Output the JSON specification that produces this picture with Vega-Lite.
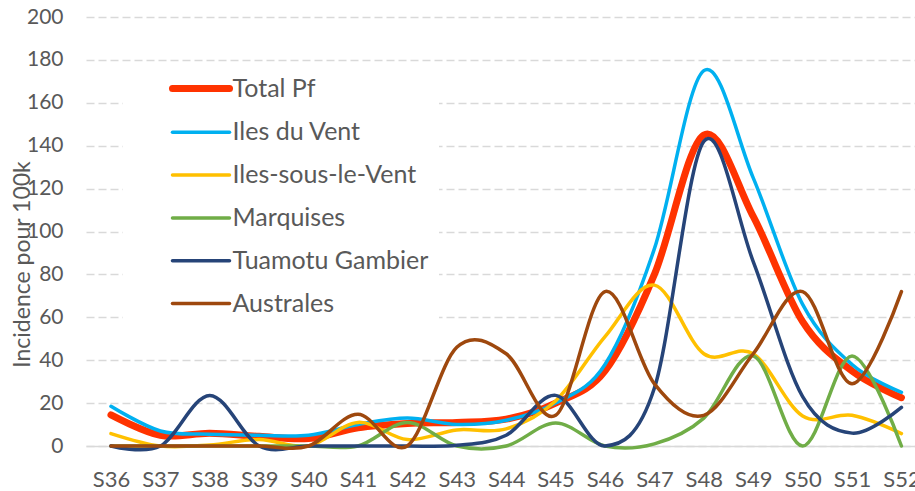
{
  "$schema": "https://vega.github.io/schema/vega-lite/v6.json",
  "width": 829,
  "height": 429,
  "autosize": "none",
  "padding": {"left": 86, "top": 17, "right": 0, "bottom": 45},
  "background": "white",
  "config": {"view": {"stroke": null}, "font": "Lato"},
  "data": {
    "values": [
      {"series": "Total Pf", "week": "S36", "value": 14.5},
      {"series": "Total Pf", "week": "S37", "value": 5},
      {"series": "Total Pf", "week": "S38", "value": 6},
      {"series": "Total Pf", "week": "S39", "value": 4.5},
      {"series": "Total Pf", "week": "S40", "value": 3.5},
      {"series": "Total Pf", "week": "S41", "value": 8.5},
      {"series": "Total Pf", "week": "S42", "value": 10.5},
      {"series": "Total Pf", "week": "S43", "value": 11},
      {"series": "Total Pf", "week": "S44", "value": 12.5},
      {"series": "Total Pf", "week": "S45", "value": 20},
      {"series": "Total Pf", "week": "S46", "value": 35},
      {"series": "Total Pf", "week": "S47", "value": 80},
      {"series": "Total Pf", "week": "S48", "value": 145},
      {"series": "Total Pf", "week": "S49", "value": 107},
      {"series": "Total Pf", "week": "S50", "value": 58},
      {"series": "Total Pf", "week": "S51", "value": 35},
      {"series": "Total Pf", "week": "S52", "value": 22.5},

      {"series": "Iles du Vent", "week": "S36", "value": 18.5},
      {"series": "Iles du Vent", "week": "S37", "value": 7},
      {"series": "Iles du Vent", "week": "S38", "value": 5.5},
      {"series": "Iles du Vent", "week": "S39", "value": 5},
      {"series": "Iles du Vent", "week": "S40", "value": 5},
      {"series": "Iles du Vent", "week": "S41", "value": 10},
      {"series": "Iles du Vent", "week": "S42", "value": 13},
      {"series": "Iles du Vent", "week": "S43", "value": 10},
      {"series": "Iles du Vent", "week": "S44", "value": 12},
      {"series": "Iles du Vent", "week": "S45", "value": 20},
      {"series": "Iles du Vent", "week": "S46", "value": 38},
      {"series": "Iles du Vent", "week": "S47", "value": 92},
      {"series": "Iles du Vent", "week": "S48", "value": 175},
      {"series": "Iles du Vent", "week": "S49", "value": 125},
      {"series": "Iles du Vent", "week": "S50", "value": 66},
      {"series": "Iles du Vent", "week": "S51", "value": 38},
      {"series": "Iles du Vent", "week": "S52", "value": 25},

      {"series": "Iles-sous-le-Vent", "week": "S36", "value": 5.8},
      {"series": "Iles-sous-le-Vent", "week": "S37", "value": 0},
      {"series": "Iles-sous-le-Vent", "week": "S38", "value": 0.5},
      {"series": "Iles-sous-le-Vent", "week": "S39", "value": 3},
      {"series": "Iles-sous-le-Vent", "week": "S40", "value": 0},
      {"series": "Iles-sous-le-Vent", "week": "S41", "value": 11},
      {"series": "Iles-sous-le-Vent", "week": "S42", "value": 3},
      {"series": "Iles-sous-le-Vent", "week": "S43", "value": 7.5},
      {"series": "Iles-sous-le-Vent", "week": "S44", "value": 8},
      {"series": "Iles-sous-le-Vent", "week": "S45", "value": 21},
      {"series": "Iles-sous-le-Vent", "week": "S46", "value": 51},
      {"series": "Iles-sous-le-Vent", "week": "S47", "value": 75},
      {"series": "Iles-sous-le-Vent", "week": "S48", "value": 43},
      {"series": "Iles-sous-le-Vent", "week": "S49", "value": 43},
      {"series": "Iles-sous-le-Vent", "week": "S50", "value": 14},
      {"series": "Iles-sous-le-Vent", "week": "S51", "value": 14.3},
      {"series": "Iles-sous-le-Vent", "week": "S52", "value": 5.8},

      {"series": "Marquises", "week": "S36", "value": 0},
      {"series": "Marquises", "week": "S37", "value": 0},
      {"series": "Marquises", "week": "S38", "value": 0},
      {"series": "Marquises", "week": "S39", "value": 0},
      {"series": "Marquises", "week": "S40", "value": 0},
      {"series": "Marquises", "week": "S41", "value": 0},
      {"series": "Marquises", "week": "S42", "value": 11},
      {"series": "Marquises", "week": "S43", "value": 0},
      {"series": "Marquises", "week": "S44", "value": 0},
      {"series": "Marquises", "week": "S45", "value": 10.7},
      {"series": "Marquises", "week": "S46", "value": 0},
      {"series": "Marquises", "week": "S47", "value": 1},
      {"series": "Marquises", "week": "S48", "value": 13},
      {"series": "Marquises", "week": "S49", "value": 42},
      {"series": "Marquises", "week": "S50", "value": 0},
      {"series": "Marquises", "week": "S51", "value": 42},
      {"series": "Marquises", "week": "S52", "value": 0},

      {"series": "Tuamotu Gambier", "week": "S36", "value": 0},
      {"series": "Tuamotu Gambier", "week": "S37", "value": 0},
      {"series": "Tuamotu Gambier", "week": "S38", "value": 23.6},
      {"series": "Tuamotu Gambier", "week": "S39", "value": 0},
      {"series": "Tuamotu Gambier", "week": "S40", "value": 0},
      {"series": "Tuamotu Gambier", "week": "S41", "value": 0},
      {"series": "Tuamotu Gambier", "week": "S42", "value": 0},
      {"series": "Tuamotu Gambier", "week": "S43", "value": 0.3},
      {"series": "Tuamotu Gambier", "week": "S44", "value": 5},
      {"series": "Tuamotu Gambier", "week": "S45", "value": 23.6},
      {"series": "Tuamotu Gambier", "week": "S46", "value": 0},
      {"series": "Tuamotu Gambier", "week": "S47", "value": 27},
      {"series": "Tuamotu Gambier", "week": "S48", "value": 142},
      {"series": "Tuamotu Gambier", "week": "S49", "value": 86},
      {"series": "Tuamotu Gambier", "week": "S50", "value": 23},
      {"series": "Tuamotu Gambier", "week": "S51", "value": 6},
      {"series": "Tuamotu Gambier", "week": "S52", "value": 18},

      {"series": "Australes", "week": "S36", "value": 0},
      {"series": "Australes", "week": "S37", "value": 0},
      {"series": "Australes", "week": "S38", "value": 0},
      {"series": "Australes", "week": "S39", "value": 0},
      {"series": "Australes", "week": "S40", "value": 0},
      {"series": "Australes", "week": "S41", "value": 14.8},
      {"series": "Australes", "week": "S42", "value": 0},
      {"series": "Australes", "week": "S43", "value": 46},
      {"series": "Australes", "week": "S44", "value": 43},
      {"series": "Australes", "week": "S45", "value": 14.3},
      {"series": "Australes", "week": "S46", "value": 72},
      {"series": "Australes", "week": "S47", "value": 29},
      {"series": "Australes", "week": "S48", "value": 14.3},
      {"series": "Australes", "week": "S49", "value": 43},
      {"series": "Australes", "week": "S50", "value": 72},
      {"series": "Australes", "week": "S51", "value": 29},
      {"series": "Australes", "week": "S52", "value": 72}
    ]
  },
  "mark": {"type": "line", "interpolate": "cardinal", "tension": 0, "strokeCap": "round", "strokeJoin": "round"},
  "encoding": {
    "x": {
      "field": "week",
      "type": "ordinal",
      "scale": {"type": "point", "padding": 0.39, "align": 0.648},
      "axis": {
        "title": null,
        "labelAngle": 0,
        "labelFontSize": 22,
        "labelColor": "#595959",
        "labelPadding": 23,
        "ticks": false,
        "grid": false,
        "domainColor": "#d9d9d9",
        "domainWidth": 1.5
      }
    },
    "y": {
      "field": "value",
      "type": "quantitative",
      "scale": {"domain": [0, 200], "nice": false},
      "axis": {
        "title": "Incidence pour 100k",
        "values": [0, 20, 40, 60, 80, 100, 120, 140, 160, 180, 200],
        "labelFontSize": 21,
        "labelColor": "#595959",
        "labelPadding": 23,
        "ticks": false,
        "domain": false,
        "gridColor": "#d9d9d9",
        "gridDash": [8, 4],
        "gridWidth": 1.5,
        "titleFontSize": 23,
        "titleFontWeight": "normal",
        "titleColor": "#595959",
        "titleAngle": 270,
        "titleAlign": "center",
        "titleBaseline": "alphabetic",
        "titleX": -57,
        "titleY": 247
      }
    },
    "color": {
      "field": "series",
      "type": "nominal",
      "scale": {
        "domain": ["Total Pf", "Iles du Vent", "Iles-sous-le-Vent", "Marquises", "Tuamotu Gambier", "Australes"],
        "range": ["#ff3300", "#00b0f0", "#ffc000", "#70ad47", "#264478", "#9e480e"]
      },
      "legend": {
        "orient": "none",
        "legendX": 37,
        "legendY": 49,
        "title": null,
        "padding": 10,
        "fillColor": "white",
        "symbolType": "M-5,0H5",
        "symbolSize": 130,
        "symbolOffset": 55.5,
        "labelOffset": 19,
        "labelFontSize": 25,
        "labelColor": "#595959",
        "rowPadding": 16.8,
        "labelLimit": 400,
        "encode": {
          "symbols": {"update": {"strokeCap": {"value": "round"}}},
          "entries": {"enter": {"width": {"value": 338}}, "update": {"width": {"value": 338}}}
        }
      }
    },
    "strokeWidth": {
      "field": "series",
      "type": "ordinal",
      "scale": {
        "type": "ordinal",
        "domain": ["Total Pf", "Iles du Vent", "Iles-sous-le-Vent", "Marquises", "Tuamotu Gambier", "Australes"],
        "range": [7, 3.5, 3.5, 3.5, 3.5, 3.5]
      },
      "legend": {
        "orient": "none",
        "legendX": 37,
        "legendY": 49,
        "title": null,
        "padding": 10,
        "fillColor": "white",
        "symbolType": "M-5,0H5",
        "symbolSize": 130,
        "symbolOffset": 55.5,
        "labelOffset": 19,
        "labelFontSize": 25,
        "labelColor": "#595959",
        "rowPadding": 16.8,
        "labelLimit": 400,
        "encode": {
          "symbols": {"update": {"strokeCap": {"value": "round"}}},
          "entries": {"enter": {"width": {"value": 338}}, "update": {"width": {"value": 338}}}
        }
      }
    }
  }
}
